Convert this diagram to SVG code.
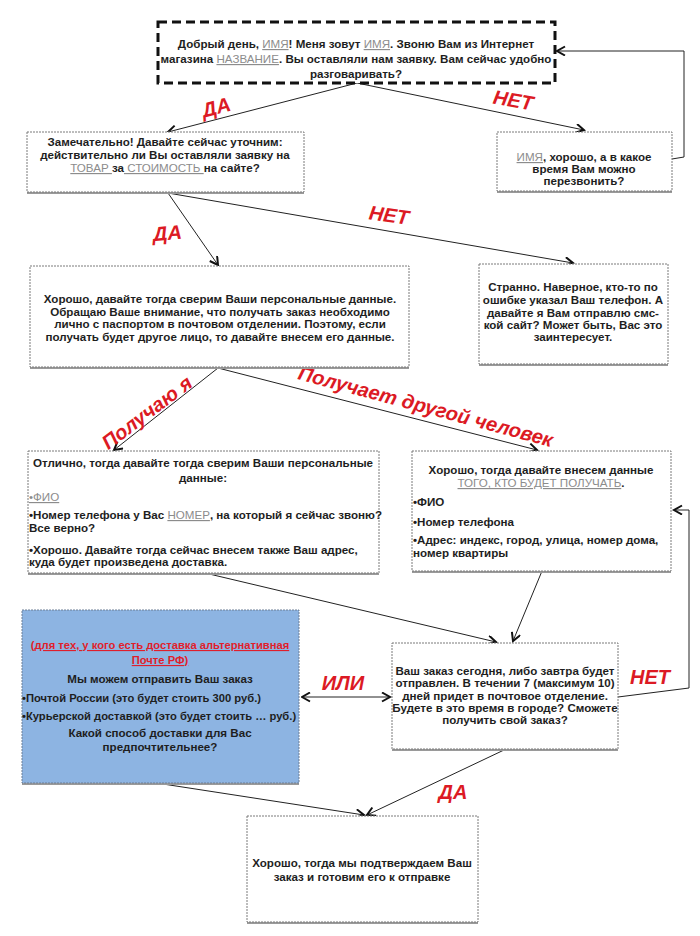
<svg xmlns="http://www.w3.org/2000/svg" width="700" height="936" viewBox="0 0 700 936">
<style>
.bx{fill:#fff;stroke:#7a7a7a;stroke-width:1;stroke-dasharray:2 1}
.sh{fill:#9a9a9a}
.t{font-family:"Liberation Sans",Arial,sans-serif;font-size:11.6px;font-weight:bold;fill:#1e1e1e}
.s{font-size:11.2px}
.c{text-anchor:middle}
.ph{fill:#8c8c8c;font-weight:normal;text-decoration:underline}
.rd{fill:#e01e2b;text-decoration:underline;font-weight:bold}
.lb{font-family:"Liberation Sans",Arial,sans-serif;font-size:20px;font-weight:bold;font-style:italic;fill:#dc1a24;text-anchor:middle}
.ln{fill:none;stroke:#222;stroke-width:1}
</style>
<defs>
<marker id="ah" markerWidth="12" markerHeight="12" refX="9" refY="5" orient="auto" markerUnits="userSpaceOnUse">
<path d="M1,0.5 L9,5 L1,9.5" fill="none" stroke="#111" stroke-width="2"/>
</marker>
<marker id="as" markerWidth="12" markerHeight="12" refX="1" refY="5" orient="auto" markerUnits="userSpaceOnUse">
<path d="M9,0.5 L1,5 L9,9.5" fill="none" stroke="#111" stroke-width="2"/>
</marker>
</defs>
<rect width="700" height="936" fill="#fff"/>

<g id="connectors">
<line class="ln" x1="357" y1="83" x2="168" y2="132" marker-end="url(#ah)"/>
<line class="ln" x1="357" y1="83" x2="584" y2="130" marker-end="url(#ah)"/>
<polyline class="ln" points="672,159 684,157 684,51 557,51" marker-end="url(#ah)"/>
<line class="ln" x1="168" y1="193" x2="218" y2="265" marker-end="url(#ah)"/>
<line class="ln" x1="168" y1="193" x2="573" y2="263" marker-end="url(#ah)"/>
<line class="ln" x1="218" y1="368" x2="114" y2="450" marker-end="url(#ah)"/>
<line class="ln" x1="218" y1="368" x2="537" y2="450" marker-end="url(#ah)"/>
<line class="ln" x1="205" y1="573" x2="496" y2="642" marker-end="url(#ah)"/>
<line class="ln" x1="542" y1="571" x2="513" y2="641" marker-end="url(#ah)"/>
<polyline class="ln" points="618,697 689,688 689,510 674,510" marker-end="url(#ah)"/>
<line class="ln" x1="302" y1="697" x2="390" y2="697" marker-start="url(#as)" marker-end="url(#ah)"/>
<line class="ln" x1="163" y1="784" x2="364" y2="815" marker-end="url(#ah)"/>
<line class="ln" x1="504" y1="750" x2="367" y2="815" marker-end="url(#ah)"/>
</g>

<g id="labels">
<text class="lb" transform="translate(218,114) rotate(-15)">ДА</text>
<text class="lb" transform="translate(512,107) rotate(10)">НЕТ</text>
<text class="lb" transform="translate(168,240) rotate(-5)">ДА</text>
<text class="lb" transform="translate(388,222) rotate(8)">НЕТ</text>
<text class="lb" transform="translate(151,418) rotate(-37)">Получаю я</text>
<text class="lb" transform="translate(424,413) rotate(15)">Получает другой человек</text>
<text class="lb" x="343" y="690">ИЛИ</text>
<text class="lb" x="650" y="684">НЕТ</text>
<text class="lb" x="453" y="799">ДА</text>
</g>

<g id="n-greeting">
<rect x="158" y="22" width="397" height="61" fill="#fff" stroke="#111" stroke-width="3" stroke-dasharray="9 5"/>
<text class="t c" x="356" y="48">Добрый день, <tspan class="ph">ИМЯ</tspan>! Меня зовут <tspan class="ph">ИМЯ</tspan>. Звоню Вам из Интернет</text>
<text class="t c" x="356" y="63">магазина <tspan class="ph">НАЗВАНИЕ</tspan>. Вы оставляли нам заявку. Вам сейчас удобно</text>
<text class="t c" x="356" y="78">разговаривать?</text>
</g>

<g id="n-confirm">
<rect class="sh" x="27" y="134" width="277" height="60"/>
<rect class="bx" x="27" y="132" width="277" height="60"/>
<text class="t c" x="165" y="146">Замечательно! Давайте сейчас уточним:</text>
<text class="t c" x="165" y="159">действительно ли Вы оставляли заявку на</text>
<text class="t c" x="165" y="172"><tspan class="ph">ТОВАР </tspan>за<tspan class="ph"> СТОИМОСТЬ </tspan>на сайте?</text>
</g>

<g id="n-callback">
<rect class="sh" x="497" y="134" width="175" height="59"/>
<rect class="bx" x="497" y="132" width="175" height="59"/>
<text class="t c" x="584" y="161"><tspan class="ph">ИМЯ</tspan>, хорошо, а в какое</text>
<text class="t c" x="584" y="173">время Вам можно</text>
<text class="t c" x="584" y="185">перезвонить?</text>
</g>

<g id="n-personal">
<rect class="sh" x="30" y="268" width="379" height="101"/>
<rect class="bx" x="30" y="266" width="379" height="101"/>
<text class="t c" x="220" y="303">Хорошо, давайте тогда сверим Ваши персональные данные.</text>
<text class="t c" x="220" y="316">Обращаю Ваше внимание, что получать заказ необходимо</text>
<text class="t c" x="220" y="328">лично с паспортом в почтовом отделении. Поэтому, если</text>
<text class="t c" x="220" y="341">получать будет другое лицо, то давайте внесем его данные.</text>
</g>

<g id="n-strange">
<rect class="sh" x="479" y="266" width="189" height="100"/>
<rect class="bx" x="479" y="264" width="189" height="100"/>
<text class="t c" x="573" y="291">Странно. Наверное, кто-то по</text>
<text class="t c" x="573" y="304">ошибке указал Ваш телефон. А</text>
<text class="t c" x="573" y="317">давайте я Вам отправлю смс-</text>
<text class="t c" x="573" y="329">кой сайт? Может быть, Вас это</text>
<text class="t c" x="573" y="341">заинтересует.</text>
</g>

<g id="n-self">
<rect class="sh" x="28" y="453" width="351" height="122"/>
<rect class="bx" x="28" y="451" width="351" height="122"/>
<text class="t c" x="203" y="467">Отлично, тогда давайте тогда сверим Ваши персональные</text>
<text class="t c" x="203" y="482">данные:</text>
<text class="t" x="29" y="501"><tspan class="ph">•ФИО </tspan></text>
<text class="t" x="29" y="519">•Номер телефона у Вас <tspan class="ph">НОМЕР</tspan>, на который я сейчас звоню?</text>
<text class="t" x="29" y="532">Все верно?</text>
<text class="t" x="29" y="554">•Хорошо. Давайте тогда сейчас внесем также Ваш адрес,</text>
<text class="t" x="29" y="566">куда будет произведена доставка.</text>
</g>

<g id="n-other">
<rect class="sh" x="412" y="453" width="259" height="120"/>
<rect class="bx" x="412" y="451" width="259" height="120"/>
<text class="t c" x="541" y="474">Хорошо, тогда давайте внесем данные</text>
<text class="t c" x="541" y="487"><tspan class="ph">ТОГО, КТО БУДЕТ ПОЛУЧАТЬ</tspan>.</text>
<text class="t" x="413" y="506">•ФИО</text>
<text class="t" x="413" y="526">•Номер телефона</text>
<text class="t" x="413" y="544">•Адрес: индекс, город, улица, номер дома,</text>
<text class="t" x="413" y="557">номер квартиры</text>
</g>

<g id="n-alt">
<rect class="sh" x="22" y="612" width="277" height="173"/>
<rect x="22" y="610" width="277" height="173" fill="#8db4e2" stroke="#6d7f96" stroke-width="1" stroke-dasharray="2 1"/>
<text class="t s c" x="160" y="649"><tspan class="rd">(для тех, у кого есть доставка альтернативная</tspan></text>
<text class="t s c" x="160" y="664"><tspan class="rd">Почте РФ)</tspan></text>
<text class="t c" x="160" y="683">Мы можем отправить Ваш заказ</text>
<text class="t s" x="22" y="702">•Почтой России (это будет стоить 300 руб.)</text>
<text class="t s" x="22" y="720">•Курьерской доставкой (это будет стоить … руб.)</text>
<text class="t c" x="160" y="737">Какой способ доставки для Вас</text>
<text class="t c" x="160" y="751">предпочтительнее?</text>
</g>

<g id="n-order">
<rect class="sh" x="392" y="645" width="226" height="106"/>
<rect class="bx" x="392" y="643" width="226" height="106"/>
<text class="t c" x="505" y="675">Ваш заказ сегодня, либо завтра будет</text>
<text class="t c" x="505" y="687">отправлен. В течении 7 (максимум 10)</text>
<text class="t c" x="505" y="700">дней придет в почтовое отделение.</text>
<text class="t c" x="505" y="712">Будете в это время в городе? Сможете</text>
<text class="t c" x="505" y="724">получить свой заказ?</text>
</g>

<g id="n-final">
<rect class="sh" x="247" y="818" width="231" height="106"/>
<rect class="bx" x="247" y="816" width="231" height="106"/>
<text class="t c" x="362" y="867">Хорошо, тогда мы подтверждаем Ваш</text>
<text class="t c" x="362" y="881">заказ и готовим его к отправке</text>
</g>
</svg>
